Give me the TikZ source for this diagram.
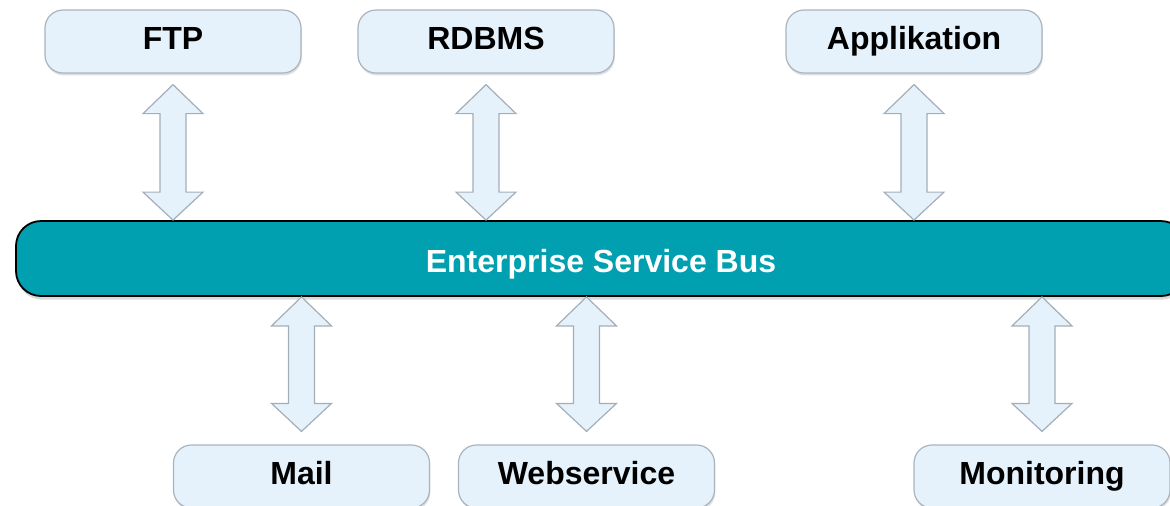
\documentclass[tikz,border=0pt]{standalone}
\usepackage{fontspec}
\setmainfont{Liberation Sans}
\usetikzlibrary{calc,shadows}

\definecolor{boxfill}{HTML}{E5F2FC}
\definecolor{boxline}{HTML}{A9B4BE}
\definecolor{busfill}{HTML}{00A0B1}
\definecolor{arrowline}{HTML}{A3AEB8}

\tikzset{
  sysbox/.style={draw=boxline, line width=0.6pt, fill=boxfill, rounded corners=9pt,
    minimum width=128pt, minimum height=31.5pt, inner sep=0pt,
    text height=11.5pt, text depth=4pt,
    font=\bfseries\fontsize{16}{19}\selectfont,
    drop shadow={shadow xshift=0.4pt, shadow yshift=-1.2pt, opacity=0.25}},
  busbox/.style={draw=black, line width=0.9pt, fill=busfill, rounded corners=12.5pt,
    minimum width=585pt, minimum height=37.5pt, inner sep=0pt,
    text height=17.5pt, text depth=4pt,
    text=white, font=\bfseries\fontsize{16}{19}\selectfont,
    drop shadow={shadow xshift=0.5pt, shadow yshift=-1.8pt, opacity=0.3}},
  blockarrow/.style={draw=arrowline, line width=0.6pt, fill=boxfill, line join=miter}
}

% double-headed block arrow from top tip #1 to bottom tip #2
\newcommand\dblblock[2]{%
  \draw[blockarrow] (#1) -- ($(#1)+(30,29)$) -- ($(#1)+(13,29)$)
    -- ($(#2)+(13,-28)$) -- ($(#2)+(30,-28)$) -- (#2)
    -- ($(#2)+(-30,-28)$) -- ($(#2)+(-13,-28)$)
    -- ($(#1)+(-13,29)$) -- ($(#1)+(-30,29)$) -- cycle;}

\begin{document}
\begin{tikzpicture}[x=0.5pt, y=-0.5pt]
  \useasboundingbox (0,0) rectangle (1170,505);
  \clip (0,0) rectangle (1170,505);

  % systems above the bus
  \node[sysbox] (ftp)   at (173,41.5) {FTP};
  \node[sysbox] (rdbms) at (486,41.5) {RDBMS};
  \node[sysbox] (app)   at (914,41.5) {Applikation};

  % the bus itself
  \node[busbox] (bus) at (601,258.5) {Enterprise Service Bus};

  % systems below the bus
  \node[sysbox] (mail) at (301.5,476.5) {Mail};
  \node[sysbox] (web)  at (586.5,476.5) {Webservice};
  \node[sysbox] (mon)  at (1042,476.5)  {Monitoring};

  % connection points
  \foreach \n in {ftp,rdbms,app}{
    \coordinate (\n-t) at ($(\n.south)+(0,11)$);
    \coordinate (\n-b) at (\n.south |- bus.north);
  }
  \foreach \n in {mail,web,mon}{
    \coordinate (\n-t) at (\n.north |- bus.south);
    \coordinate (\n-b) at ($(\n.north)+(0,-13)$);
  }

  % connectors
  \foreach \n in {ftp,rdbms,app,mail,web,mon}{\dblblock{\n-t}{\n-b}}
\end{tikzpicture}
\end{document}
